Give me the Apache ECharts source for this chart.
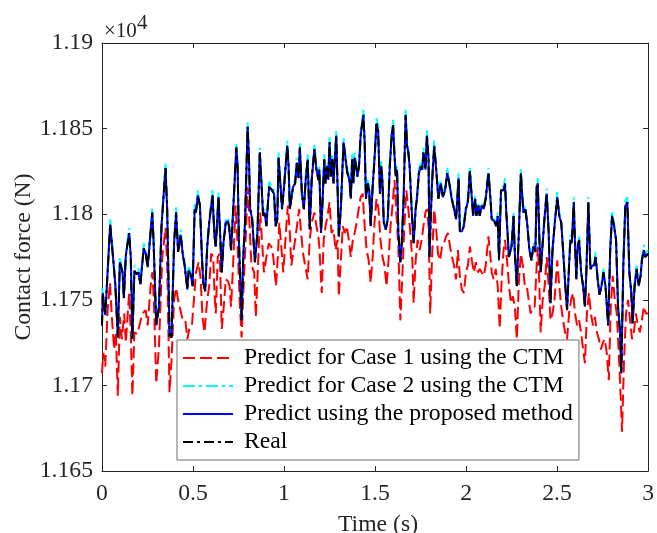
<!DOCTYPE html>
<html><head><meta charset="utf-8">
<script src="https://cdn.jsdelivr.net/npm/echarts@6/dist/echarts.min.js"></script>
<style>html,body{margin:0;padding:0;background:#fff}#c{width:657px;height:533px}</style>
</head><body><div id="c"></div>
<script>
// Time samples (s) shared by the real signal and the two close predictions
const timeS = [
0,0.004,0.018,0.025,0.045,0.062,0.073,0.087,0.098,0.113,
0.120,0.131,0.149,0.158,0.167,0.178,0.189,0.200,0.211,0.229,
0.240,0.251,0.276,0.283,0.298,0.313,0.327,0.349,0.358,0.371,
0.382,0.396,0.407,0.418,0.432,0.443,0.454,0.462,0.469,0.476,
0.487,0.498,0.509,0.516,0.527,0.538,0.549,0.556,0.567,0.578,
0.589,0.607,0.618,0.625,0.640,0.649,0.658,0.667,0.680,0.691,
0.698,0.709,0.721,0.738,0.745,0.752,0.767,0.776,0.785,0.800,
0.807,0.814,0.825,0.840,0.854,0.867,0.876,0.885,0.894,0.903,
0.918,0.934,0.945,0.954,0.963,0.970,0.981,0.989,1.000,1.018,
1.025,1.032,1.040,1.050,1.061,1.070,1.080,1.087,1.098,1.109,
1.119,1.130,1.141,1.152,1.167,1.178,1.189,1.194,1.203,1.210,
1.221,1.228,1.236,1.243,1.250,1.258,1.265,1.272,1.279,1.287,
1.294,1.301,1.312,1.327,1.338,1.348,1.359,1.367,1.374,1.381,
1.388,1.396,1.403,1.412,1.421,1.436,1.443,1.450,1.461,1.468,
1.476,1.487,1.497,1.508,1.517,1.527,1.534,1.541,1.548,1.559,
1.570,1.581,1.592,1.599,1.607,1.614,1.621,1.628,1.639,1.646,
1.657,1.668,1.676,1.683,1.690,1.701,1.712,1.723,1.730,1.741,
1.752,1.759,1.766,1.777,1.785,1.794,1.799,1.812,1.825,1.836,
1.848,1.861,1.872,1.885,1.897,1.908,1.921,1.934,1.945,1.959,
1.966,1.977,1.988,1.999,2.010,2.021,2.032,2.039,2.050,2.057,
2.068,2.075,2.086,2.097,2.108,2.123,2.134,2.141,2.155,2.166,
2.174,2.181,2.192,2.206,2.214,2.221,2.228,2.235,2.250,2.261,
2.268,2.279,2.290,2.301,2.308,2.315,2.326,2.337,2.348,2.359,
2.370,2.381,2.388,2.394,2.403,2.410,2.421,2.432,2.443,2.454,
2.464,2.475,2.486,2.501,2.512,2.523,2.533,2.544,2.555,2.566,
2.573,2.581,2.592,2.599,2.606,2.613,2.621,2.632,2.643,2.653,
2.661,2.672,2.683,2.693,2.704,2.712,2.723,2.733,2.744,2.755,
2.766,2.781,2.792,2.802,2.813,2.824,2.835,2.846,2.853,2.864,
2.875,2.886,2.897,2.908,2.915,2.926,2.937,2.948,2.959,2.966,
2.977,2.984,3.000];

// Real contact force (N)
const realForce = [
11735,11754,11741,11742,11794,11773,11759,11728,11772,11766,
11751,11776,11789,11775,11727,11767,11765,11766,11759,11780,
11777,11769,11801,11785,11735,11746,11793,11827,11803,11729,
11728,11783,11801,11778,11788,11777,11770,11771,11756,11767,
11765,11758,11803,11801,11811,11805,11775,11760,11755,11781,
11795,11811,11787,11781,11810,11810,11766,11783,11795,11796,
11793,11779,11803,11839,11828,11785,11738,11775,11793,11851,
11834,11803,11797,11772,11789,11836,11818,11799,11801,11793,
11816,11814,11812,11793,11797,11833,11816,11803,11816,11840,
11828,11803,11809,11816,11818,11830,11821,11839,11812,11803,
11820,11832,11791,11820,11838,11826,11820,11826,11789,11803,
11832,11818,11828,11820,11842,11822,11832,11818,11832,11846,
11816,11787,11803,11842,11832,11824,11820,11809,11832,11818,
11833,11828,11822,11828,11846,11858,11842,11809,11818,11814,
11793,11816,11832,11853,11849,11812,11828,11818,11795,11791,
11797,11828,11847,11852,11834,11822,11826,11789,11772,11781,
11809,11858,11840,11836,11828,11803,11783,11803,11809,11824,
11828,11826,11836,11826,11846,11832,11775,11816,11840,11826,
11809,11818,11810,11814,11824,11818,11809,11803,11797,11821,
11790,11790,11793,11803,11807,11825,11809,11799,11809,11799,
11805,11799,11805,11803,11809,11824,11809,11797,11796,11793,
11799,11773,11814,11814,11818,11801,11789,11775,11781,11799,
11777,11758,11789,11824,11812,11801,11803,11793,11779,11773,
11781,11778,11816,11818,11785,11766,11783,11799,11812,11789,
11748,11779,11793,11810,11799,11795,11779,11760,11744,11770,
11785,11783,11807,11781,11762,11781,11785,11766,11758,11746,
11766,11807,11768,11770,11770,11775,11762,11753,11758,11766,
11758,11735,11779,11799,11793,11785,11746,11731,11707,11770,
11805,11807,11766,11754,11736,11758,11768,11758,11764,11773,
11779,11775,11777];

// Predict using the proposed method (N)
const proposedForce = [
11735,11754,11741,11742,11794,11773,11759,11728,11772,11766,
11751,11776,11789,11775,11727,11767,11765,11766,11759,11780,
11777,11769,11801,11785,11735,11746,11793,11827,11803,11729,
11728,11783,11801,11778,11788,11777,11770,11771,11756,11767,
11765,11758,11803,11801,11811,11805,11775,11760,11755,11781,
11795,11811,11787,11781,11810,11810,11766,11783,11795,11796,
11793,11779,11803,11839,11828,11785,11738,11775,11793,11851,
11834,11803,11797,11772,11789,11836,11818,11799,11801,11793,
11816,11814,11812,11793,11797,11833,11816,11803,11816,11840,
11828,11803,11809,11816,11818,11830,11821,11839,11812,11803,
11820,11832,11791,11820,11838,11826,11820,11826,11789,11803,
11832,11818,11828,11820,11842,11822,11832,11818,11832,11846,
11816,11787,11803,11842,11832,11824,11820,11809,11832,11818,
11833,11828,11822,11828,11846,11858,11842,11809,11818,11814,
11793,11816,11832,11853,11849,11812,11828,11818,11795,11791,
11797,11828,11847,11852,11834,11822,11826,11789,11772,11781,
11809,11858,11840,11836,11828,11803,11783,11803,11809,11824,
11828,11826,11836,11826,11846,11832,11775,11816,11840,11826,
11809,11818,11810,11814,11824,11818,11809,11803,11797,11821,
11790,11790,11793,11803,11807,11825,11809,11799,11809,11799,
11805,11799,11805,11803,11809,11824,11809,11797,11796,11793,
11799,11773,11814,11814,11818,11801,11789,11775,11781,11799,
11777,11758,11789,11824,11812,11801,11803,11793,11779,11773,
11781,11778,11816,11818,11785,11766,11783,11799,11812,11789,
11748,11779,11793,11810,11799,11795,11779,11760,11744,11770,
11785,11783,11807,11781,11762,11781,11785,11766,11758,11746,
11766,11807,11768,11770,11770,11775,11762,11753,11758,11766,
11758,11735,11779,11799,11793,11785,11746,11731,11707,11770,
11805,11807,11766,11754,11736,11758,11768,11758,11764,11773,
11779,11775,11777];

// Predict for Case 2 using the CTM (N)
const case2Force = [
11757,11758,11742,11743,11797,11775,11760,11728,11775,11767,
11751,11777,11792,11776,11727,11770,11768,11768,11760,11783,
11779,11770,11804,11786,11736,11747,11795,11830,11804,11730,
11729,11785,11804,11780,11791,11779,11773,11774,11757,11769,
11767,11759,11806,11803,11814,11806,11777,11762,11756,11783,
11797,11814,11788,11782,11813,11813,11767,11785,11797,11798,
11795,11780,11805,11842,11830,11787,11739,11777,11796,11854,
11836,11805,11799,11773,11791,11839,11820,11801,11803,11794,
11819,11816,11814,11794,11799,11836,11818,11804,11818,11843,
11830,11804,11811,11818,11820,11833,11823,11842,11814,11804,
11822,11835,11792,11822,11841,11828,11822,11828,11790,11805,
11835,11820,11830,11822,11845,11824,11835,11820,11834,11849,
11818,11788,11805,11845,11834,11826,11822,11810,11835,11820,
11836,11830,11824,11830,11848,11861,11844,11811,11820,11816,
11794,11818,11834,11856,11852,11814,11831,11820,11797,11792,
11799,11830,11850,11855,11836,11824,11828,11790,11773,11783,
11811,11861,11842,11838,11830,11805,11784,11805,11811,11826,
11831,11828,11839,11828,11849,11834,11776,11818,11843,11828,
11811,11820,11812,11816,11827,11820,11811,11805,11798,11824,
11792,11792,11795,11805,11809,11828,11811,11800,11811,11800,
11807,11800,11807,11805,11811,11827,11811,11798,11797,11794,
11801,11774,11816,11816,11821,11803,11791,11776,11783,11801,
11778,11759,11791,11827,11814,11803,11805,11795,11781,11775,
11783,11779,11818,11821,11787,11767,11785,11801,11815,11791,
11749,11781,11795,11813,11801,11797,11781,11761,11745,11772,
11788,11785,11810,11783,11763,11783,11787,11768,11759,11747,
11768,11810,11770,11772,11772,11778,11764,11754,11760,11768,
11759,11736,11781,11802,11795,11787,11747,11732,11708,11772,
11808,11810,11768,11755,11737,11760,11770,11759,11766,11775,
11782,11777,11779];

// Predict for Case 1 using the CTM: its own time samples (s) and force (N)
const timeCase1 = [
0,0.007,0.018,0.031,0.044,0.054,0.067,0.076,0.087,0.098,
0.109,0.122,0.131,0.149,0.158,0.167,0.178,0.194,0.203,0.222,
0.240,0.251,0.267,0.276,0.285,0.298,0.313,0.331,0.349,0.358,
0.371,0.382,0.396,0.407,0.418,0.431,0.443,0.458,0.469,0.480,
0.494,0.505,0.516,0.531,0.542,0.552,0.563,0.578,0.589,0.600,
0.611,0.618,0.625,0.636,0.647,0.658,0.669,0.680,0.691,0.701,
0.709,0.720,0.734,0.745,0.756,0.767,0.778,0.789,0.800,0.811,
0.821,0.836,0.845,0.854,0.869,0.880,0.890,0.903,0.916,0.930,
0.941,0.956,0.967,0.974,0.985,0.996,1.010,1.021,1.032,1.040,
1.050,1.061,1.076,1.083,1.094,1.105,1.116,1.130,1.141,1.152,
1.167,1.178,1.189,1.194,1.207,1.218,1.228,1.239,1.250,1.261,
1.272,1.283,1.294,1.301,1.312,1.323,1.334,1.345,1.356,1.367,
1.378,1.388,1.399,1.410,1.421,1.432,1.443,1.454,1.465,1.476,
1.487,1.497,1.508,1.519,1.530,1.541,1.552,1.563,1.574,1.585,
1.596,1.607,1.617,1.628,1.639,1.650,1.661,1.672,1.683,1.694,
1.705,1.712,1.723,1.734,1.745,1.756,1.766,1.777,1.785,1.794,
1.803,1.814,1.825,1.836,1.846,1.857,1.868,1.879,1.890,1.901,
1.912,1.923,1.934,1.945,1.955,1.966,1.977,1.988,1.999,2.010,
2.021,2.032,2.043,2.054,2.065,2.075,2.086,2.097,2.108,2.123,
2.134,2.141,2.152,2.163,2.174,2.185,2.195,2.206,2.214,2.225,
2.235,2.246,2.257,2.268,2.279,2.290,2.301,2.312,2.323,2.334,
2.344,2.355,2.366,2.377,2.388,2.395,2.403,2.410,2.421,2.432,
2.443,2.454,2.464,2.475,2.486,2.501,2.512,2.523,2.533,2.544,
2.555,2.566,2.577,2.588,2.599,2.610,2.621,2.632,2.643,2.653,
2.664,2.675,2.686,2.697,2.708,2.719,2.730,2.741,2.752,2.762,
2.773,2.784,2.795,2.806,2.817,2.828,2.839,2.850,2.857,2.868,
2.879,2.890,2.901,2.912,2.922,2.933,2.944,2.955,2.966,2.977,
2.988,3.000];
const case1Force = [
11707,11719,11711,11744,11760,11740,11721,11731,11694,11740,
11727,11742,11725,11754,11731,11694,11731,11730,11731,11742,
11744,11735,11758,11766,11750,11701,11723,11775,11792,11770,
11696,11715,11750,11757,11750,11744,11738,11738,11727,11733,
11735,11750,11766,11772,11762,11740,11731,11750,11758,11777,
11775,11754,11742,11775,11777,11733,11746,11762,11761,11758,
11746,11770,11805,11783,11750,11728,11758,11785,11816,11793,
11770,11766,11740,11762,11801,11783,11766,11775,11783,11781,
11775,11758,11777,11795,11781,11766,11789,11805,11789,11770,
11777,11785,11797,11803,11789,11777,11770,11762,11785,11795,
11801,11793,11787,11781,11754,11785,11793,11799,11807,11789,
11791,11779,11785,11752,11773,11793,11789,11793,11785,11775,
11785,11789,11795,11803,11810,11812,11793,11779,11773,11760,
11775,11795,11809,11803,11785,11775,11770,11758,11773,11793,
11805,11820,11801,11781,11738,11764,11793,11814,11803,11789,
11773,11748,11773,11785,11779,11785,11793,11801,11803,11793,
11742,11777,11803,11791,11777,11773,11781,11783,11787,11789,
11781,11775,11770,11762,11779,11764,11756,11754,11766,11770,
11781,11773,11766,11772,11766,11768,11766,11764,11770,11787,
11775,11766,11762,11768,11758,11733,11760,11779,11785,11773,
11760,11748,11752,11746,11727,11760,11777,11770,11758,11758,
11750,11742,11746,11746,11770,11781,11758,11731,11750,11758,
11775,11758,11738,11742,11750,11773,11758,11746,11738,11731,
11727,11742,11750,11754,11742,11735,11738,11731,11721,11713,
11742,11754,11742,11735,11740,11731,11727,11721,11725,11727,
11719,11703,11746,11764,11750,11742,11719,11692,11673,11715,
11742,11750,11738,11727,11731,11742,11735,11731,11738,11746,
11742,11742];

const seriesNames = [
  'Predict for Case 1 using the CTM',
  'Predict for Case 2 using the CTM',
  'Predict using the proposed method',
  'Real'
];
const xTickLabels = ['0','0.5','1','1.5','2','2.5','3'];
const yTickLabels = ['1.165','1.17','1.175','1.18','1.185','1.19'];
const xAxisTitle = 'Time (s)';
const yAxisTitle = 'Contact force (N)';

const FONT = '"Liberation Serif", "Times New Roman", serif';
const AX = '#262626';
const pairs = (t, v) => t.map((x, i) => [x, v[i]]);

const xBase = {
  type: 'value', min: 0, max: 3, interval: 0.5,
  axisLine: { show: true, onZero: false, lineStyle: { color: AX, width: 1 } },
  axisTick: { show: true, inside: true, length: 5, lineStyle: { color: AX, width: 1 } },
  splitLine: { show: false }
};
const yBase = {
  type: 'value', min: 11650, max: 11900, interval: 50,
  axisLine: { show: true, onZero: false, lineStyle: { color: AX, width: 1 } },
  axisTick: { show: true, inside: true, length: 5, lineStyle: { color: AX, width: 1 } },
  splitLine: { show: false }
};

const chart = echarts.init(document.getElementById('c'), null, { renderer: 'canvas' });
chart.setOption({
  animation: false,
  backgroundColor: '#fff',
  grid: { left: 102, right: 4, top: 43, bottom: 62, containLabel: false },
  xAxis: [
    Object.assign({}, xBase, { position: 'bottom',
      axisLabel: { margin: 11, color: AX, fontSize: 23.7, fontFamily: FONT,
        formatter: v => xTickLabels[Math.round(v / 0.5)] } }),
    Object.assign({}, xBase, { position: 'top', axisLabel: { show: false } })
  ],
  yAxis: [
    Object.assign({}, yBase, { position: 'left',
      axisLabel: { margin: 9, color: AX, fontSize: 23.7, fontFamily: FONT,
        formatter: v => yTickLabels[Math.round((v - 11650) / 50)] } }),
    Object.assign({}, yBase, { position: 'right', axisLabel: { show: false } })
  ],
  legend: {
    orient: 'vertical', left: 177, top: 340,
    padding: [4, 6, 4, 5], itemGap: 0, itemWidth: 50, itemHeight: 2,
    backgroundColor: '#fff', borderColor: '#6e6e6e', borderWidth: 1,
    selectedMode: false,
    itemStyle: { opacity: 0 },
    textStyle: { fontFamily: FONT, fontSize: 23.7, color: '#000', lineHeight: 28, padding: [0, 0, 0, 6] },
    data: seriesNames
  },
  series: [
    { name: seriesNames[0], type: 'line', data: pairs(timeCase1, case1Force), showSymbol: false, symbol: 'none',
      lineStyle: { color: '#ff0000', width: 2, type: [12, 5] }, itemStyle: { color: '#ff0000' }, z: 2 },
    { name: seriesNames[1], type: 'line', data: pairs(timeS, case2Force), showSymbol: false, symbol: 'none',
      lineStyle: { color: '#00ffff', width: 2, type: [12, 4, 3, 4] }, itemStyle: { color: '#00ffff' }, z: 3 },
    { name: seriesNames[2], type: 'line', data: pairs(timeS, proposedForce), showSymbol: false, symbol: 'none',
      lineStyle: { color: '#0000ff', width: 2, type: 'solid' }, itemStyle: { color: '#0000ff' }, z: 4 },
    { name: seriesNames[3], type: 'line', data: pairs(timeS, realForce), showSymbol: false, symbol: 'none',
      lineStyle: { color: '#000000', width: 2, type: [10, 4, 3, 4] }, itemStyle: { color: '#000000' }, z: 5 }
  ],
  graphic: [
    { type: 'text', x: 24, y: 257, rotation: Math.PI / 2,
      style: { text: yAxisTitle, fontFamily: FONT, fontSize: 23.7, fill: AX, align: 'center', verticalAlign: 'middle' } },
    { type: 'text', x: 378, y: 525,
      style: { text: xAxisTitle, fontFamily: FONT, fontSize: 23.7, fill: AX, align: 'center', verticalAlign: 'middle' } },
    { type: 'text', x: 104, y: 31,
      style: { text: '×10', fontFamily: FONT, fontSize: 21, fill: AX, align: 'left', verticalAlign: 'middle' } },
    { type: 'text', x: 137, y: 23,
      style: { text: '4', fontFamily: FONT, fontSize: 21, fill: AX, align: 'left', verticalAlign: 'middle' } }
  ]
});
</script>
</body></html>
